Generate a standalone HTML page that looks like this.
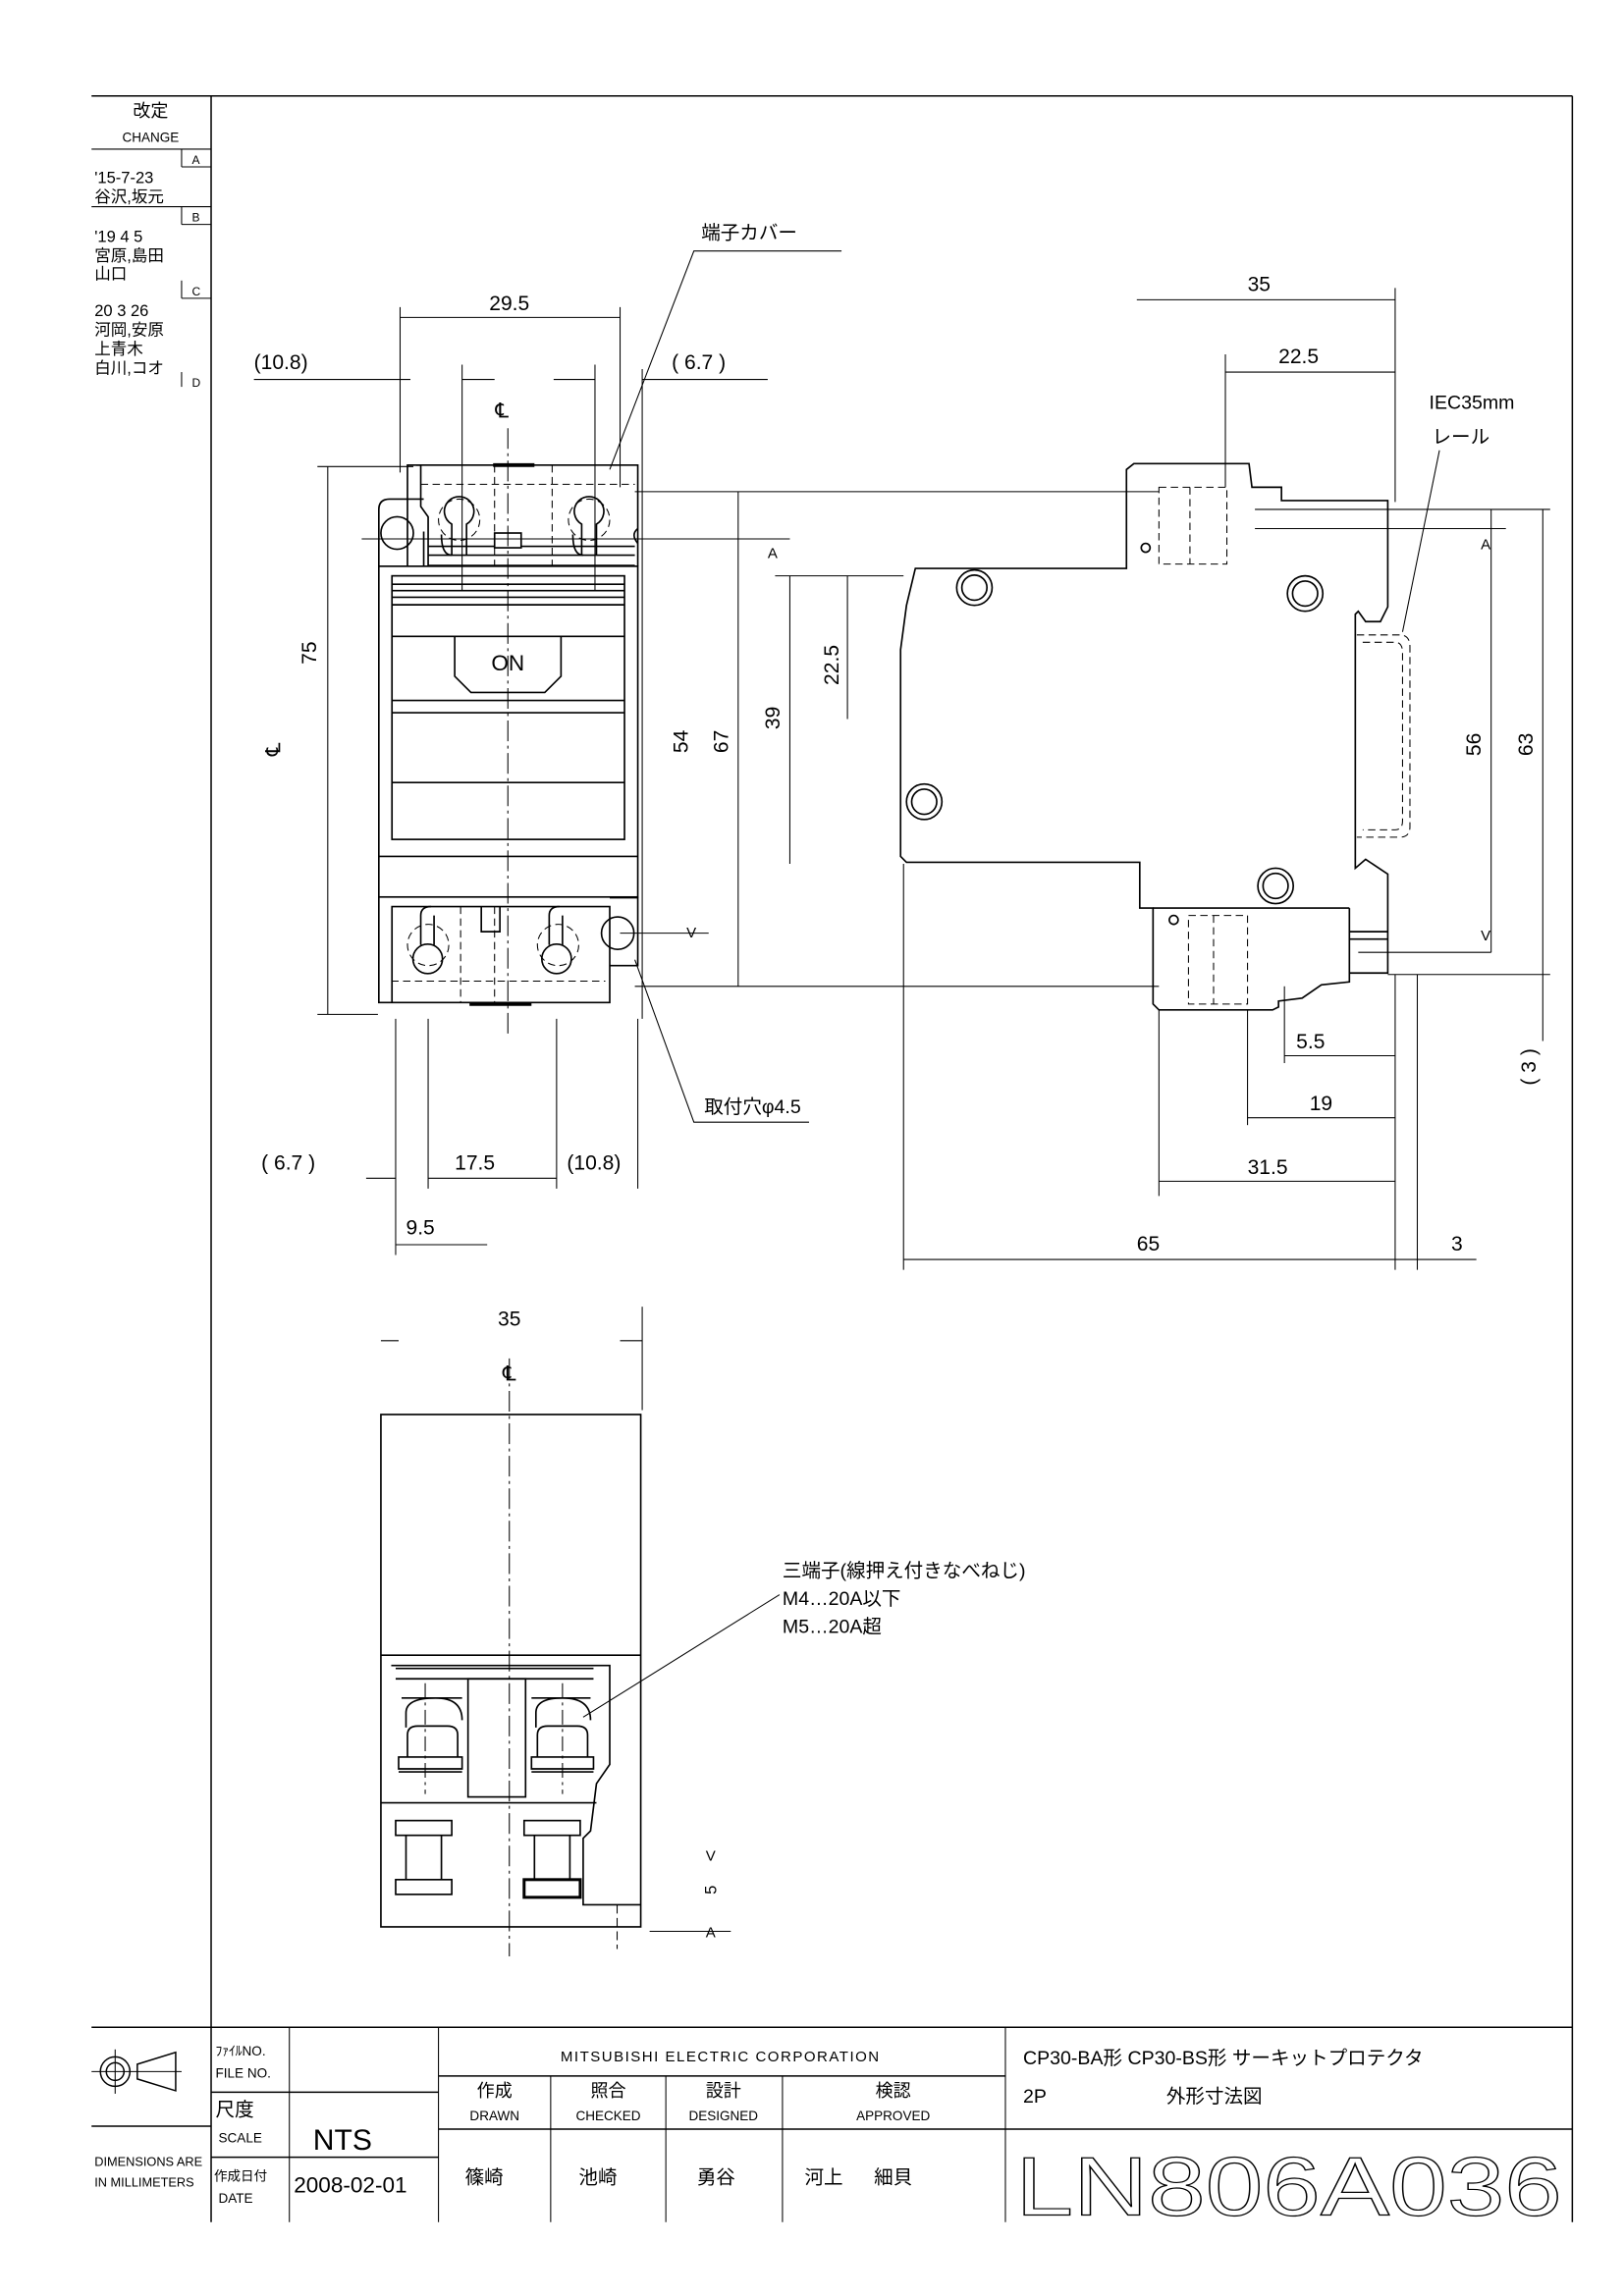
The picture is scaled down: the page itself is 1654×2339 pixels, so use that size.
<!DOCTYPE html>
<html><head><meta charset="utf-8"><style>
html,body{margin:0;padding:0;background:#fff}
svg{display:block}
text{font-family:"Liberation Sans","Noto Sans CJK JP",sans-serif;fill:#000}
</style></head><body>
<svg width="1654" height="2339" viewBox="0 0 1100 1555" preserveAspectRatio="none" xmlns="http://www.w3.org/2000/svg">
<g fill="none" stroke="#000" stroke-width="0.7">
<line x1="62" y1="65" x2="1065" y2="65" stroke-width="1"/>
<line x1="1065" y1="65" x2="1065" y2="1505" stroke-width="1"/>
<line x1="143" y1="65" x2="143" y2="1505" stroke-width="1"/>
<line x1="62" y1="101" x2="143" y2="101"/>
<line x1="62" y1="140" x2="143" y2="140"/>
<line x1="123" y1="101" x2="123" y2="113"/><line x1="123" y1="113" x2="143" y2="113"/>
<line x1="123" y1="140" x2="123" y2="152"/><line x1="123" y1="152" x2="143" y2="152"/>
<line x1="123" y1="190" x2="123" y2="202"/><line x1="123" y1="202" x2="143" y2="202"/>
<line x1="123" y1="252" x2="123" y2="262"/>
<line x1="62" y1="1373" x2="1065" y2="1373" stroke-width="1"/>
<line x1="62" y1="1440" x2="143" y2="1440" stroke-width="1"/>
<line x1="196" y1="1373" x2="196" y2="1505"/>
<line x1="143" y1="1417" x2="297" y2="1417" stroke-width="1"/>
<line x1="143" y1="1461" x2="297" y2="1461" stroke-width="1"/>
<line x1="297" y1="1373" x2="297" y2="1505"/>
<line x1="297" y1="1406" x2="681" y2="1406" stroke-width="1"/>
<line x1="297" y1="1442" x2="1065" y2="1442" stroke-width="1"/>
<line x1="373" y1="1406" x2="373" y2="1505"/>
<line x1="451" y1="1406" x2="451" y2="1505"/>
<line x1="530" y1="1406" x2="530" y2="1505"/>
<line x1="681" y1="1373" x2="681" y2="1505"/>
<circle cx="78" cy="1403" r="10" stroke-width="1"/><circle cx="78" cy="1403" r="6" stroke-width="1"/>
<polygon points="93,1398 119,1390 119,1416 93,1408" stroke-width="1"/>
<line x1="62" y1="1403" x2="123" y2="1403"/><line x1="78" y1="1388" x2="78" y2="1418"/>

<g stroke-width="1.1">
<rect x="256.6" y="383.5" width="175.4" height="224"/>
<rect x="265.5" y="390" width="157.5" height="178.5"/>
<line x1="265.5" y1="395.7" x2="423" y2="395.7"/><line x1="265.5" y1="400" x2="423" y2="400"/>
<line x1="265.5" y1="404.5" x2="423" y2="404.5"/><line x1="265.5" y1="409.6" x2="423" y2="409.6"/>
<line x1="265.5" y1="431" x2="423" y2="431"/><line x1="265.5" y1="474.4" x2="423" y2="474.4"/>
<line x1="265.5" y1="482.7" x2="423" y2="482.7"/><line x1="265.5" y1="530" x2="423" y2="530"/>
<line x1="256.6" y1="580" x2="432" y2="580"/>
<polyline points="308,431 308,458 319,469 369,469 380,458 380,431"/>
<path d="M276,383.5 L276,315 L285,315 L285,343 L290,350 L290,383.5"/>
<path d="M282,315 L432,315 L432,383.5"/>
<path d="M256.6,345 Q256.6,338 264,338 L287,338 M256.6,345 L256.6,383.5 M287,383.5 L287,360"/>
<circle cx="269" cy="361" r="11"/>
<path d="M290,370 L430,370 M290,376 L430,376 M290,383 L430,383"/>
<rect x="335" y="361" width="18" height="10" fill="#fff"/>
<path d="M299,362 Q299,376 306,376 M316,376 L316,355 a10,10 0 1 0 -10,0 L306,376" />
<path d="M388,362 Q388,376 395,376 M404,376 L404,355 a10,10 0 1 0 -10,0 L394,376"/>
<path d="M432,358 Q427,362 432,368"/>
<path d="M256.6,607.3 L256.6,679 L413,679 L413,614 L265.5,614 L265.5,679"/>
<path d="M413,608 L432,608 L432,654 L413,654"/>
<circle cx="418.4" cy="632" r="11"/>
<path d="M326,614 L326,631 L338.6,631 L338.6,614"/>
<circle cx="289.7" cy="649.4" r="10"/><circle cx="377" cy="649.4" r="10"/>
<path d="M285,640 L285,620 Q285,614 292,614 M294,640 L294,620"/>
<path d="M372,640 L372,620 Q372,614 379,614 M381,640 L381,620"/>
<line x1="318" y1="680" x2="360" y2="680" stroke-width="2.5"/>
<line x1="334" y1="315" x2="362" y2="315" stroke-width="2.5"/>
</g>
<g stroke-dasharray="5,3">
<line x1="285" y1="328" x2="430" y2="328"/><line x1="265" y1="664.5" x2="410" y2="664.5"/>
<line x1="335" y1="315" x2="335" y2="383"/><line x1="374" y1="315" x2="374" y2="383"/>
<line x1="335" y1="614" x2="335" y2="679"/><line x1="312" y1="614" x2="312" y2="679"/>
<circle cx="311" cy="352" r="14"/><circle cx="399" cy="352" r="14"/>
<circle cx="290" cy="640" r="14"/><circle cx="378" cy="640" r="14"/>
</g>
<line x1="344" y1="290" x2="344" y2="700" stroke-dasharray="14,3,2,3"/>
<line x1="271" y1="208" x2="271" y2="320"/><line x1="420" y1="208" x2="420" y2="330"/>
<line x1="271" y1="215" x2="420" y2="215"/>
<line x1="172" y1="257" x2="278" y2="257"/><line x1="313" y1="257" x2="335" y2="257"/>
<line x1="375" y1="257" x2="403" y2="257"/><line x1="435" y1="257" x2="520" y2="257"/>
<line x1="313" y1="247" x2="313" y2="400"/><line x1="403" y1="247" x2="403" y2="400"/>
<line x1="435" y1="250" x2="435" y2="690"/>
<line x1="215" y1="316" x2="280" y2="316"/><line x1="222" y1="316" x2="222" y2="687"/>
<line x1="215" y1="687" x2="256" y2="687"/>
<line x1="430" y1="333" x2="785" y2="333"/><line x1="500" y1="333" x2="500" y2="668"/>
<line x1="430" y1="668" x2="785" y2="668"/>
<line x1="525" y1="390" x2="612" y2="390"/><line x1="535" y1="390" x2="535" y2="585"/>
<line x1="574" y1="390" x2="574" y2="487"/>
<line x1="245" y1="365" x2="535" y2="365"/><line x1="420" y1="632" x2="480" y2="632"/>
<line x1="268" y1="690" x2="268" y2="850"/><line x1="290" y1="690" x2="290" y2="805"/>
<line x1="377" y1="690" x2="377" y2="805"/><line x1="432" y1="690" x2="432" y2="805"/>
<line x1="248" y1="798" x2="268" y2="798"/><line x1="290" y1="798" x2="377" y2="798"/>
<line x1="268" y1="843" x2="330" y2="843"/>
<polyline points="570,170 470,170 413,318"/>
<polyline points="548,760 470,760 430,650"/>
<polyline points="528,1080 395,1163"/>

<polygon stroke-width="1.1" points="620,385 763,385 763,318 768,314 846,314 848,330 868,330 868,339 940,339 940,411 935,421 925,421 920,414 918,416 918,588 925,582 940,592 940,659 914,659 914,665 895,667 882,676 866,678 866,682 862,684 785,684 781,680 781,615 772,615 772,584 614,584 610,580 610,440 614,410"/>
<line x1="914" y1="615" x2="781" y2="615" stroke-width="1.1"/>
<line x1="914" y1="615" x2="914" y2="659" stroke-width="1.1"/>
<path d="M914,631 L940,631 M914,636 L940,636" stroke-width="1.1"/>
<g stroke-width="1.1">
<circle cx="660" cy="398" r="12"/><circle cx="660" cy="398" r="8.5"/>
<circle cx="884" cy="402" r="12"/><circle cx="884" cy="402" r="8.5"/>
<circle cx="626" cy="543" r="12"/><circle cx="626" cy="543" r="8.5"/>
<circle cx="864" cy="600" r="12"/><circle cx="864" cy="600" r="8.5"/>
<circle cx="776" cy="371" r="3"/><circle cx="795" cy="623" r="3"/>
</g>
<g stroke-dasharray="5,3">
<path d="M919,430 L948,430 Q955,430 955,438 L955,560 Q955,567 948,567 L919,567"/>
<path d="M923,435 L945,435 Q950,435 950,442 L950,556 Q950,562 945,562 L923,562"/>
<rect x="785" y="330" width="46" height="52"/><line x1="806" y1="330" x2="806" y2="382"/>
<rect x="805" y="620" width="40" height="60"/><line x1="822" y1="620" x2="822" y2="680"/>
</g>
<line x1="770" y1="203" x2="945" y2="203"/>
<line x1="830" y1="240" x2="830" y2="330"/><line x1="830" y1="252" x2="945" y2="252"/>
<line x1="945" y1="195" x2="945" y2="340"/>
<line x1="850" y1="358" x2="1020" y2="358"/><line x1="850" y1="345" x2="1050" y2="345"/>
<line x1="1010" y1="345" x2="1010" y2="645"/><line x1="1045" y1="345" x2="1045" y2="705"/>
<line x1="940" y1="660" x2="1050" y2="660"/><line x1="920" y1="645" x2="1010" y2="645"/>
<polyline points="975,305 950,428"/>
<line x1="945" y1="660" x2="945" y2="860"/><line x1="960" y1="660" x2="960" y2="860"/>
<line x1="612" y1="585" x2="612" y2="860"/><line x1="785" y1="684" x2="785" y2="810"/>
<line x1="845" y1="684" x2="845" y2="762"/><line x1="870" y1="668" x2="870" y2="720"/>
<line x1="870" y1="715" x2="945" y2="715"/><line x1="845" y1="757" x2="945" y2="757"/>
<line x1="785" y1="800" x2="945" y2="800"/>
<line x1="612" y1="853" x2="960" y2="853"/><line x1="960" y1="853" x2="1000" y2="853"/>

<g stroke-width="1.1">
<rect x="258" y="958" width="176" height="347"/>
<line x1="258" y1="1121" x2="434" y2="1121"/>
<path d="M265,1128 L413,1128 L413,1195 L404,1208 L400,1240 L395,1245 L395,1290 L434,1290"/>
<line x1="258" y1="1221" x2="404" y2="1221"/>
<path d="M268,1130 L402,1130 M268,1137 L402,1137"/>
<rect x="317" y="1137" width="39" height="80"/>
<path d="M272,1150 L313,1150 M360,1150 L400,1150"/>
<path d="M275,1170 L275,1160 Q275,1150 295,1150 Q313,1150 313,1165"/>
<path d="M363,1170 L363,1160 Q363,1150 381,1150 Q400,1150 400,1165"/>
<path d="M276,1190 L276,1175 Q276,1169 283,1169 L303,1169 Q310,1169 310,1175 L310,1190"/>
<path d="M364,1190 L364,1175 Q364,1169 371,1169 L391,1169 Q398,1169 398,1175 L398,1190"/>
<path d="M270,1190 L313,1190 L313,1198 L270,1198 Z M360,1190 L402,1190 L402,1198 L360,1198 Z"/>
<path d="M270,1200 L313,1200 M360,1200 L402,1200"/>
<rect x="268" y="1233" width="38" height="10"/><rect x="268" y="1273" width="38" height="10"/>
<line x1="275" y1="1243" x2="275" y2="1273"/><line x1="299" y1="1243" x2="299" y2="1273"/>
<rect x="355" y="1233" width="38" height="10"/>
<line x1="362" y1="1243" x2="362" y2="1273"/><line x1="386" y1="1243" x2="386" y2="1273"/>
<rect x="355" y="1273" width="38" height="12" stroke-width="2"/>
</g>
<line x1="345" y1="920" x2="345" y2="1325" stroke-dasharray="14,3,2,3"/>
<line x1="288" y1="1140" x2="288" y2="1215" stroke-dasharray="10,3,2,3"/>
<line x1="381" y1="1140" x2="381" y2="1215" stroke-dasharray="10,3,2,3"/>
<line x1="258" y1="908" x2="270" y2="908"/><line x1="420" y1="908" x2="435" y2="908"/>
<line x1="435" y1="885" x2="435" y2="955"/>
<line x1="418" y1="1290" x2="418" y2="1320" stroke-dasharray="6,3"/>
<line x1="440" y1="1308" x2="495" y2="1308"/>
</g>

<g font-size="11">
<text x="102" y="79" text-anchor="middle" font-size="12">改定</text>
<text x="102" y="96" text-anchor="middle" font-size="9">CHANGE</text>
<text x="130" y="111" font-size="8">A</text><text x="130" y="150" font-size="8">B</text>
<text x="130" y="200" font-size="8">C</text><text x="130" y="262" font-size="8">D</text>
<text x="64" y="124">'15-7-23</text><text x="64" y="137">谷沢,坂元</text>
<text x="64" y="164">'19 4 5</text><text x="64" y="177">宮原,島田</text><text x="64" y="189">山口</text>
<text x="64" y="214">20 3 26</text><text x="64" y="227">河岡,安原</text>
<text x="64" y="240">上青木</text><text x="64" y="253">白川,コオ</text>
</g>
<g font-size="9">
<text x="146" y="1392">ﾌｧｲﾙNO.</text><text x="146" y="1407">FILE NO.</text>
<text x="146" y="1433" font-size="13">尺度</text><text x="148" y="1451">SCALE</text>
<text x="145" y="1477">作成日付</text><text x="148" y="1492">DATE</text>
<text x="64" y="1467" font-size="8.5">DIMENSIONS ARE</text><text x="64" y="1481" font-size="8.5">IN MILLIMETERS</text>
<text x="488" y="1396" text-anchor="middle" font-size="10" letter-spacing="1">MITSUBISHI ELECTRIC CORPORATION</text>
<text x="335" y="1420" text-anchor="middle" font-size="12">作成</text><text x="335" y="1436" text-anchor="middle">DRAWN</text>
<text x="412" y="1420" text-anchor="middle" font-size="12">照合</text><text x="412" y="1436" text-anchor="middle">CHECKED</text>
<text x="490" y="1420" text-anchor="middle" font-size="12">設計</text><text x="490" y="1436" text-anchor="middle">DESIGNED</text>
<text x="605" y="1420" text-anchor="middle" font-size="12">検認</text><text x="605" y="1436" text-anchor="middle">APPROVED</text>
</g>
<text x="212" y="1456" font-size="20">NTS</text>
<text x="199" y="1485" font-size="15">2008-02-01</text>
<g font-size="13">
<text x="315" y="1479">篠崎</text><text x="392" y="1479">池崎</text><text x="472" y="1479">勇谷</text>
<text x="545" y="1479">河上</text><text x="592" y="1479">細貝</text>
<text x="693" y="1398">CP30-BA形  CP30-BS形 サーキットプロテクタ</text>
<text x="693" y="1424">2P</text><text x="790" y="1424">外形寸法図</text>
</g>
<text x="688" y="1500" font-size="56" stroke="#000" stroke-width="0.8" style="fill:none" textLength="370" lengthAdjust="spacingAndGlyphs">LN806A036</text>

<g font-size="14">
<text x="344" y="454" text-anchor="middle" font-size="15">ON</text>
<text x="345" y="210" text-anchor="middle">29.5</text>
<text x="172" y="250">(10.8)</text><text x="455" y="250">( 6.7 )</text>
<text x="475" y="162" font-size="13">端子カバー</text>
<text x="477" y="754" font-size="13">取付穴φ4.5</text>
<text x="340" y="283" text-anchor="middle">℄</text>
<text transform="translate(214,450) rotate(-90)">75</text>
<text transform="translate(190,512) rotate(-90)">℄</text>
<text transform="translate(466,510) rotate(-90)">54</text>
<text transform="translate(493,510) rotate(-90)">67</text>
<text transform="translate(528,494) rotate(-90)">39</text>
<text transform="translate(568,464) rotate(-90)">22.5</text>
<text x="520" y="378" font-size="10">A</text><text x="465" y="635" font-size="10">V</text>
<text x="177" y="792">( 6.7 )</text><text x="308" y="792">17.5</text><text x="384" y="792">(10.8)</text>
<text x="275" y="836">9.5</text>
<text x="845" y="197">35</text><text x="866" y="246">22.5</text>
<text x="968" y="277" font-size="13">IEC35mm</text><text x="970" y="300" font-size="13">レール</text>
<text x="1003" y="372" font-size="10">A</text><text x="1003" y="637" font-size="10">V</text>
<text transform="translate(1003,512) rotate(-90)">56</text>
<text transform="translate(1038,512) rotate(-90)">63</text>
<text transform="translate(1040,735) rotate(-90)">( 3 )</text>
<text x="878" y="710">5.5</text><text x="887" y="752">19</text><text x="845" y="795">31.5</text>
<text x="770" y="847">65</text><text x="983" y="847">3</text>
<text x="345" y="898" text-anchor="middle">35</text>
<text x="345" y="935" text-anchor="middle">℄</text>
<text x="530" y="1068" font-size="13">三端子(線押え付きなべねじ)</text>
<text x="530" y="1087" font-size="13">M4…20A以下</text>
<text x="530" y="1106" font-size="13">M5…20A超</text>
<text transform="translate(485,1283) rotate(-90)" font-size="11">5</text>
<text x="478" y="1260" font-size="10">V</text><text x="478" y="1312" font-size="10">A</text>
</g>
</svg>
</body></html>
